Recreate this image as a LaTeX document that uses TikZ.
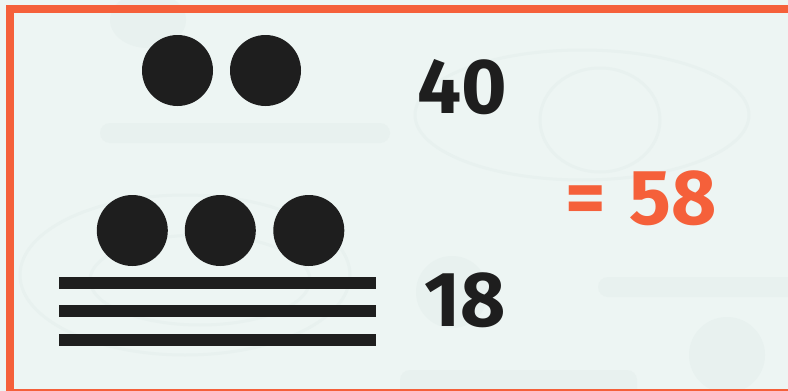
\documentclass[tikz,border=0pt]{standalone}
\usepackage{fontspec}
\setmainfont{Fira Sans}
\definecolor{bg}{HTML}{EDF5F3}
\definecolor{deco}{HTML}{E8F1EF}
\definecolor{accent}{HTML}{F5603A}
\definecolor{ink}{HTML}{1E1E1E}
\tikzset{
  dot/.style={circle, fill=ink, inner sep=0pt, minimum size=71pt},
  bar/.style={fill=ink},
  num/.style={inner sep=0pt, text=ink, font=\fontsize{78}{80}\selectfont\bfseries},
  res/.style={inner sep=0pt, text=accent, font=\fontsize{78}{80}\selectfont\bfseries},
  decofill/.style={fill=deco},
  decoline/.style={draw=deco, line width=3pt},
}
\begin{document}
\begin{tikzpicture}[x=1pt, y=-1pt]
\useasboundingbox (0,0) rectangle (788,391);
\clip (0,0) rectangle (788,391);
\fill[bg] (0,0) rectangle (788,391);
% faint decorations
\fill[decofill] (148,20) ellipse (38 and 28);
\fill[decofill, rounded corners=10pt] (100,123) rectangle (390,143);
\draw[decoline] (582,115) ellipse (167 and 65);
\draw[decoline] (600,120) ellipse (60 and 52);
\draw[decoline] (185,275) ellipse (165 and 80);
\draw[decoline] (200,280) ellipse (110 and 45);
\fill[decofill, rounded corners=10pt] (598,277) rectangle (800,297);
\fill[decofill] (727,355) circle (38);
\fill[decofill] (452,292) circle (36);
\fill[decofill, rounded corners=10pt] (400,370) rectangle (637,400);
% frame
\draw[accent, line width=8pt] (10,9) rectangle (794,393);
% top numeral: 2 dots = 40
\node[dot] (d1) at (177.5,70.5) {};
\node[dot] (d2) at (265.5,70.5) {};
% bottom numeral: 3 dots + 3 bars = 18
\node[dot] (d3) at (132.3,230.5) {};
\node[dot] (d4) at (220.3,230.5) {};
\node[dot] (d5) at (308.8,230.5) {};
\fill[bar] (59.3,277.3) rectangle (376.3,289.3);
\fill[bar] (59.3,305.3) rectangle (376.3,317.3);
\fill[bar] (59.3,333.7) rectangle (376.3,345.7);
% texts
\node[num] (forty) at (462.7,86.7) {40};
\node[num] (eighteen) at (465.5,300.5) {18};
\node[res] (result) at (641,198.7) {=\hspace{24pt}58};
\end{tikzpicture}
\end{document}
